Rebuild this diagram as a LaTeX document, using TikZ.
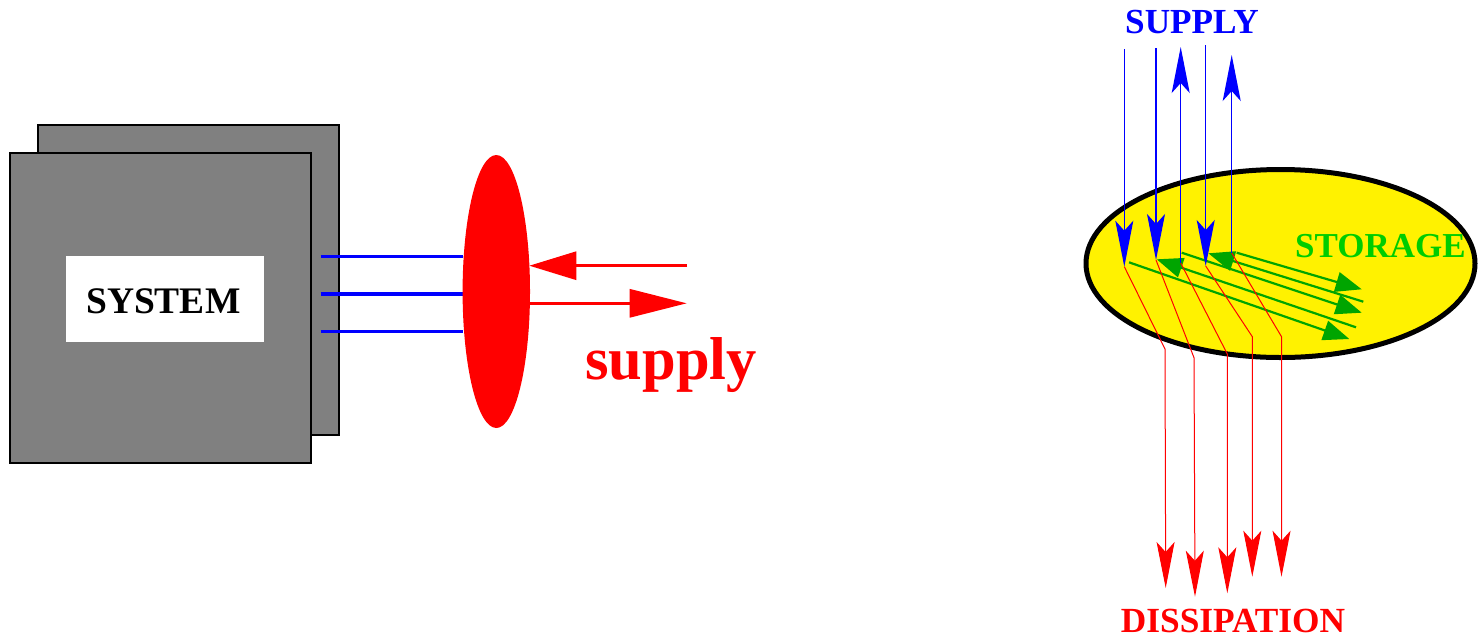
\documentclass[tikz,border=0pt]{standalone}
\usepackage{fontspec}
\setmainfont{Liberation Serif}
\usetikzlibrary{arrows.meta,shapes.geometric}
\definecolor{sysgray}{RGB}{128,128,128}
\definecolor{glinec}{RGB}{0,165,0}
\definecolor{gtextc}{RGB}{0,205,0}
\tikzset{
  lbl/.style={inner sep=0pt, anchor=base west, font=\bfseries},
  bluearr/.style={draw=blue, line width=1.3pt, -{Stealth[length=46pt,width=18pt,inset=10pt]}},
  redarr/.style={draw=red, line width=1pt, -{Stealth[length=46pt,width=18pt,inset=10pt]}},
  greenarr/.style={draw=glinec, line width=2.2pt},
  gtip/.style={-{Triangle[length=26pt,width=20pt]}},
  supplyarr/.style={draw=red, line width=3pt},
}
\begin{document}
\begin{tikzpicture}[x=1pt,y=-1pt]
\useasboundingbox (0,0) rectangle (1480,638);
% ---------- left part ----------
\draw[fill=sysgray, line width=1.3pt] (38,125) rectangle (339,435);
\draw[fill=sysgray, line width=1.3pt] (10,153) rectangle (311,463);
\fill[white] (66,256) rectangle (264,342);
\node[lbl, font=\bfseries\fontsize{37.5}{37.5}\selectfont] (sys) at (86,313.3) {SYSTEM};
\coordinate (l1a) at (320.7,256.3); \coordinate (l1b) at (463,256.3);
\coordinate (l2a) at (320.7,294);   \coordinate (l2b) at (463,294);
\coordinate (l3a) at (320.7,331.7); \coordinate (l3b) at (463,331.7);
\draw[blue, line width=3.3pt] (l1a) -- (l1b);
\draw[blue, line width=3.3pt] (l2a) -- (l2b);
\draw[blue, line width=3.3pt] (l3a) -- (l3b);
\node[ellipse, fill=red, minimum width=67.4pt, minimum height=273pt, inner sep=0pt] (disc) at (496.3,291.5) {};
\coordinate (s1a) at (687,265.7); \coordinate (s1b) at (529.3,265.7);
\coordinate (s2a) at (530,303.3); \coordinate (s2b) at (686.7,303.3);
\draw[supplyarr, -{Triangle[length=47pt,width=28pt]}] (s1a) -- (s1b);
\draw[supplyarr, -{Triangle[length=57pt,width=28pt]}] (s2a) -- (s2b);
\node[lbl, text=red, font=\bfseries\fontsize{60.5}{60.5}\selectfont] (sup) at (585,379) {supply};
% ---------- right part ----------
\node[ellipse, fill=yellow, draw=black, line width=5pt, minimum width=389pt, minimum height=188pt, inner sep=0pt] (store) at (1280.5,263.5) {};
\node[lbl, text=gtextc, font=\bfseries\fontsize{35}{35}\selectfont] (storage) at (1295,257.3) {STORAGE};
\node[lbl, text=blue, font=\bfseries\fontsize{35.2}{35.2}\selectfont] (supply) at (1125,33) {SUPPLY};
\node[lbl, text=red, font=\bfseries\fontsize{35.3}{35.3}\selectfont] (diss) at (1120.7,632.5) {DISSIPATION};
% green storage arrows
\coordinate (g1a) at (1129,262.3);   \coordinate (g1b) at (1349.3,339);
\coordinate (g2a) at (1356,327.3);   \coordinate (g2b) at (1156.7,259.3);
\coordinate (g3a) at (1181.7,252.7); \coordinate (g3b) at (1361.7,312.7);
\coordinate (g4a) at (1363.3,301.7); \coordinate (g4b) at (1208.3,253.3);
\coordinate (g5a) at (1236.7,252.7); \coordinate (g5b) at (1361.7,289.3);
\draw[greenarr, gtip] (g1a) -- (g1b);
\draw[greenarr, gtip] (g2a) -- (g2b);
\draw[greenarr, gtip] (g3a) -- (g3b);
\draw[greenarr, gtip] (g4a) -- (g4b);
\draw[greenarr, gtip] (g5a) -- (g5b);
% blue supply arrows
\coordinate (b1a) at (1124.3,49);    \coordinate (b1b) at (1124.3,266.7);
\coordinate (b2a) at (1156,48);      \coordinate (b2b) at (1156,260);
\coordinate (b3a) at (1180.7,263);   \coordinate (b3b) at (1180.7,47);
\coordinate (b4a) at (1205.7,45);    \coordinate (b4b) at (1205.7,266);
\coordinate (b5a) at (1231.7,253);   \coordinate (b5b) at (1231.7,55);
\draw[bluearr] (b1a) -- (b1b);
\draw[bluearr] (b2a) -- (b2b);
\draw[bluearr] (b3a) -- (b3b);
\draw[bluearr] (b4a) -- (b4b);
\draw[bluearr] (b5a) -- (b5b);
% red dissipation arrows
\coordinate (r1k) at (1165,349);     \coordinate (r1e) at (1165.7,588);
\coordinate (r2k) at (1194,357.7);   \coordinate (r2e) at (1195,596.7);
\coordinate (r3k) at (1227.3,354);   \coordinate (r3e) at (1227.3,593.3);
\coordinate (r4k) at (1252.3,336.7); \coordinate (r4e) at (1252.3,576.7);
\coordinate (r5k) at (1281.7,337);   \coordinate (r5e) at (1281.5,576.7);
\draw[redarr] (b1b) -- (r1k) -- (r1e);
\draw[redarr] (b2b) -- (r2k) -- (r2e);
\draw[redarr] (b3a) -- (r3k) -- (r3e);
\draw[redarr] (b4b) -- (r4k) -- (r4e);
\draw[redarr] (b5a) -- (r5k) -- (r5e);
\end{tikzpicture}
\end{document}
